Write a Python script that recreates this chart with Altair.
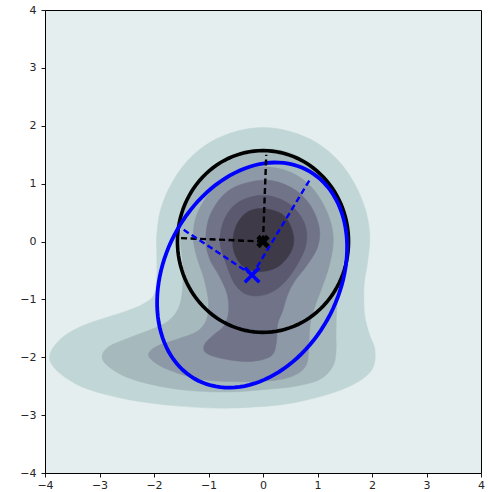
import altair as alt
import pandas as pd
import numpy as np

# ---- filled density contour levels (outer -> inner) ----
BG_COLOR = "#e5eeee"
LEVEL_COLORS = ["#c1d6d6", "#a6babd", "#8d99a6", "#717389", "#5a5970", "#3e3a48"]

L1_X = [0, 0.5, 0.98, 1.38, 1.68, 1.88, 1.96, 1.92, 1.86, 1.85, 1.87, 1.95, 2.05, 2.04, 1.9, 1.55, 1.05, 0.55, 0,
        -0.8, -1.6, -2.3, -2.9, -3.35, -3.7, -3.9, -3.88, -3.66, -3.3, -2.9, -2.5, -2.2, -2.0, -1.95, -1.95, -1.95,
        -1.88, -1.68, -1.38, -0.98, -0.5]
L1_Y = [1.97, 1.9, 1.71, 1.4, 1.0, 0.55, 0.1, -0.35, -0.7, -1.0, -1.3, -1.6, -1.85, -2.12, -2.32, -2.52, -2.68,
        -2.79, -2.85, -2.88, -2.84, -2.76, -2.64, -2.5, -2.3, -2.08, -1.88, -1.64, -1.45, -1.32, -1.2, -1.08, -0.92,
        -0.6, -0.2, 0.1, 0.55, 1.0, 1.4, 1.71, 1.9]

L2_X = [0, 0.55, 1.0, 1.32, 1.5, 1.52, 1.45, 1.38, 1.35, 1.34, 1.34, 1.28, 1.05, 0.6, 0, -0.6, -1.3, -1.9, -2.4,
        -2.75, -2.95, -2.85, -2.5, -2.0, -1.72, -1.55, -1.48, -1.47, -1.52, -1.42, -1.15, -0.6]
L2_Y = [1.6, 1.51, 1.24, 0.85, 0.35, -0.1, -0.5, -0.85, -1.2, -1.6, -1.9, -2.16, -2.38, -2.5, -2.56, -2.6, -2.58,
        -2.5, -2.38, -2.22, -2.02, -1.83, -1.68, -1.5, -1.36, -1.15, -0.85, -0.4, 0.1, 0.6, 1.1, 1.48]

L3_X = [0, 0.5, 0.9, 1.18, 1.29, 1.22, 1.08, 0.96, 0.87, 0.84, 0.8, 0.6, 0.2, -0.6, -1.2, -1.7, -2.0, -2.1, -1.95,
        -1.55, -1.22, -1.04, -1.0, -1.08, -1.22, -1.28, -1.2, -0.9, -0.5]
L3_Y = [1.29, 1.2, 0.93, 0.5, 0.05, -0.4, -0.8, -1.1, -1.4, -1.8, -2.12, -2.3, -2.4, -2.42, -2.37, -2.23, -2.08,
        -1.95, -1.81, -1.68, -1.56, -1.36, -1.05, -0.65, -0.25, 0.1, 0.5, 0.93, 1.2]

L4_X = [0, 0.5, 0.85, 1.03, 1.0, 0.8, 0.57, 0.44, 0.36, 0.27, 0.25, 0.18, -0.05, -0.4, -0.85, -1.07, -1.06, -0.9,
        -0.71, -0.63, -0.66, -0.8, -0.98, -1.05, -0.95, -0.6]
L4_Y = [1.06, 0.94, 0.65, 0.25, -0.1, -0.42, -0.7, -0.95, -1.2, -1.42, -1.7, -1.95, -2.05, -2.07, -2.0, -1.9, -1.76,
        -1.61, -1.45, -1.2, -0.9, -0.6, -0.3, 0.05, 0.5, 0.9]

L5_X = [0, 0.45, 0.74, 0.8, 0.66, 0.4, 0.1, -0.25, -0.5, -0.67, -0.79, -0.7, -0.45]
L5_Y = [0.8, 0.67, 0.36, 0.0, -0.35, -0.7, -0.9, -0.93, -0.76, -0.4, 0.0, 0.4, 0.68]

L6_X = [0, 0.38, 0.56, 0.5, 0.25, -0.1, -0.4, -0.55, -0.5, -0.3]
L6_Y = [0.57, 0.45, 0.1, -0.2, -0.45, -0.52, -0.4, -0.1, 0.25, 0.5]

LEVELS = [(L1_X, L1_Y), (L2_X, L2_Y), (L3_X, L3_Y), (L4_X, L4_Y), (L5_X, L5_Y), (L6_X, L6_Y)]

# ---- fitted shapes ----
CIRCLE_CENTER = (0.0, 0.0)
CIRCLE_R = 1.57
ELLIPSE_CENTER = (-0.2, -0.58)
ELLIPSE_A = 2.08
ELLIPSE_B = 1.58
ELLIPSE_ANGLE_DEG = 57.0

BLACK_AXIS_ENDS_X = [0.06, -1.53]
BLACK_AXIS_ENDS_Y = [1.5, 0.06]
BLUE_AXIS_ENDS_X = [0.86, -1.5]
BLUE_AXIS_ENDS_Y = [1.07, 0.23]

TICKS = [-4, -3, -2, -1, 0, 1, 2, 3, 4]

xs = alt.Scale(domain=[-4, 4], nice=False, zero=False)
ys = alt.Scale(domain=[-4, 4], nice=False, zero=False)
xax = alt.Axis(values=TICKS, title=None, grid=False, domain=False, tickSize=4, tickColor="black",
               tickWidth=0.9, labelFont="DejaVu Sans", labelFontSize=11, labelColor="#262626",
               labelPadding=2, format="d", labelFlush=False)
yax = alt.Axis(values=TICKS, title=None, grid=False, domain=False, tickSize=4, tickColor="black",
               tickWidth=0.9, labelFont="DejaVu Sans", labelFontSize=11, labelColor="#262626",
               labelPadding=5, format="d", labelFlush=False)


def X():
    return alt.X("x:Q", scale=xs, axis=xax)


def Y():
    return alt.Y("y:Q", scale=ys, axis=yax)


layers = []
for k, (lx, ly) in enumerate(LEVELS):
    df = pd.DataFrame({"x": lx, "y": ly, "i": list(range(len(lx)))})
    layers.append(
        alt.Chart(df).mark_line(interpolate="cardinal-closed", fill=LEVEL_COLORS[k],
                                stroke=LEVEL_COLORS[k], strokeWidth=0.5).encode(
            x=X(), y=Y(), order="i:Q")
    )

t = np.linspace(0, 2 * np.pi, 121)[:-1]
circ = pd.DataFrame({
    "x": CIRCLE_CENTER[0] + CIRCLE_R * np.cos(t),
    "y": CIRCLE_CENTER[1] + CIRCLE_R * np.sin(t),
    "i": np.arange(len(t)),
})
th = np.deg2rad(ELLIPSE_ANGLE_DEG)
ex = ELLIPSE_A * np.cos(t)
ey = ELLIPSE_B * np.sin(t)
ell = pd.DataFrame({
    "x": ELLIPSE_CENTER[0] + ex * np.cos(th) - ey * np.sin(th),
    "y": ELLIPSE_CENTER[1] + ex * np.sin(th) + ey * np.cos(th),
    "i": np.arange(len(t)),
})

layers.append(alt.Chart(circ).mark_line(interpolate="linear-closed", color="black", strokeWidth=3.6).encode(
    x=X(), y=Y(), order="i:Q"))
layers.append(alt.Chart(ell).mark_line(interpolate="linear-closed", color="#0000ff", strokeWidth=3.8).encode(
    x=X(), y=Y(), order="i:Q"))

segs = []
for s, (x1, y1) in enumerate(zip(BLACK_AXIS_ENDS_X, BLACK_AXIS_ENDS_Y)):
    segs += [{"x": CIRCLE_CENTER[0], "y": CIRCLE_CENTER[1], "s": f"k{s}", "c": "k", "i": 0},
             {"x": x1, "y": y1, "s": f"k{s}", "c": "k", "i": 1}]
for s, (x1, y1) in enumerate(zip(BLUE_AXIS_ENDS_X, BLUE_AXIS_ENDS_Y)):
    segs += [{"x": ELLIPSE_CENTER[0], "y": ELLIPSE_CENTER[1], "s": f"b{s}", "c": "b", "i": 0},
             {"x": x1, "y": y1, "s": f"b{s}", "c": "b", "i": 1}]
segdf = pd.DataFrame(segs)

layers.append(alt.Chart(segdf).mark_line(strokeDash=[6, 3.5], strokeWidth=2.4).encode(
    x=X(), y=Y(), detail="s:N", order="i:Q",
    color=alt.Color("c:N", scale=alt.Scale(domain=["k", "b"], range=["black", "#0000ff"]), legend=None)))

XFILL = "M-0.5,-1L0,-0.5L0.5,-1L1,-0.5L0.5,0L1,0.5L0.5,1L0,0.5L-0.5,1L-1,0.5L-0.5,0L-1,-0.5Z"
XSTROKE = "M-1,-1L1,1M-1,1L1,-1"

cdf = pd.DataFrame({"x": [CIRCLE_CENTER[0]], "y": [CIRCLE_CENTER[1]]})
edf = pd.DataFrame({"x": [ELLIPSE_CENTER[0]], "y": [ELLIPSE_CENTER[1]]})
layers.append(alt.Chart(cdf).mark_point(shape=XFILL, filled=True, color="black", size=180, opacity=1).encode(
    x=X(), y=Y()))
layers.append(alt.Chart(edf).mark_point(shape=XSTROKE, filled=False, color="#0000ff", size=210,
                                        strokeWidth=3.6, opacity=1).encode(
    x=X(), y=Y()))

chart = alt.layer(*layers).properties(
    width=436, height=463,
    padding={"left": 45, "top": 10, "right": 8, "bottom": 19},
    autosize="none",
    background="white",
).configure_view(fill=BG_COLOR, stroke="black", strokeWidth=1)

chart.save("out.html", embed_options={"renderer": "svg", "actions": False})
